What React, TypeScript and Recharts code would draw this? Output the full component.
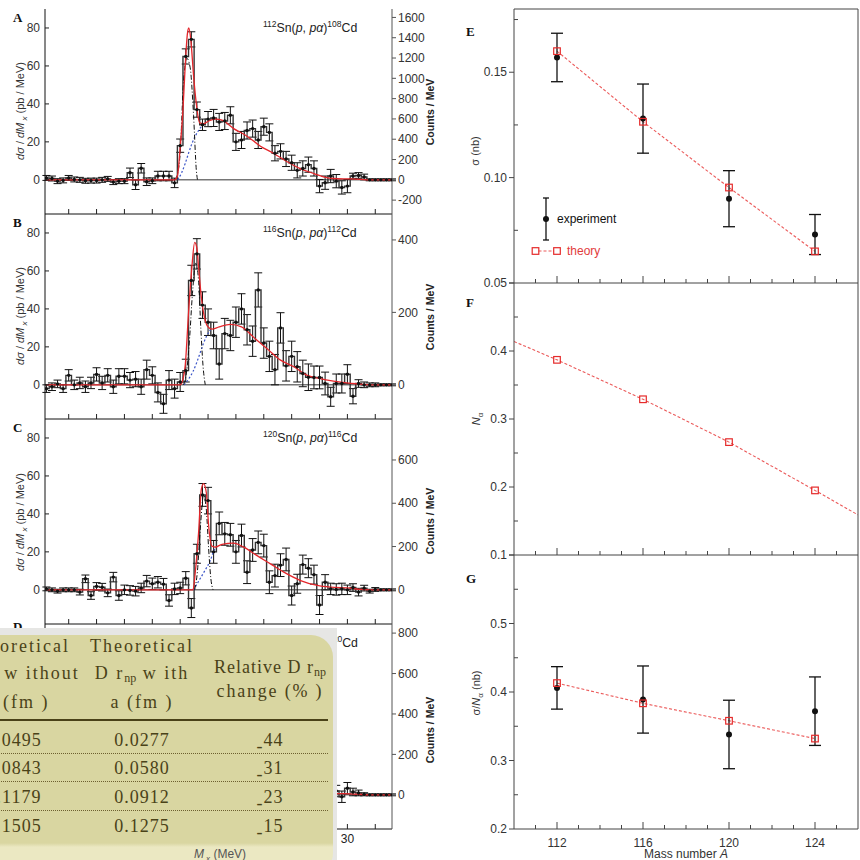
import React from "react";
import {
  ComposedChart,
  Line,
  Scatter,
  XAxis,
  YAxis,
  ErrorBar,
  ReferenceLine,
} from "recharts";

const SANS = '"Liberation Sans", Arial, sans-serif';
const SERIF = '"Liberation Serif", "DejaVu Serif", serif';

// ---- missing-mass spectra (bin centres in MeV, yields in pb/MeV) ----
const mxBins = [
  -24, -23, -22, -21, -20, -19, -18, -17, -16, -15, -14, -13, -12, -11, -10,
  -9, -8, -7, -6, -5, -4, -3, -2, -1, 0, 1, 2, 3, 4, 5, 6, 7, 8, 9, 10, 11, 12,
  13, 14, 15, 16, 17, 18, 19, 20, 21, 22, 23, 24, 25, 26, 27, 28, 29, 30, 31,
  32, 33, 34, 35, 36, 37, 38,
];

const sn112Yield = [
  1.0, 0.7, -0.7, -0.3, 1.0, 0.2, 0, -0.5, -0.4, -0.4,
  0, 0.5, -1.2, -0.7, -0.7, 3.7, -2.6, 6.1, -1.0, -0.5,
  2.0, 2.0, 2.0, -1.6, 18, 65, 74, 37, 29, 32,
  32.6, 30.5, 31, 34, 20, 21, 26, 27, 21, 28,
  25, 14, 15, 11, 9, 5, 6, 8, 6, -3.3,
  -1.5, 2, -0.7, -4, -3.3, 2, 2.3, 1.5, 0, 0,
  0, 0, 0,
];
const sn112Err = [
  1.3, 1.3, 1.3, 1.3, 1.3, 1.3, 1.3, 1.3, 1.3, 1.3,
  1.3, 1.3, 1.3, 1.3, 1.3, 2.5, 2.5, 2.5, 2, 1.5,
  2.5, 2.5, 2.5, 2.5, 3.5, 4, 4, 4, 3, 4,
  4.5, 4.5, 4.5, 4.5, 4.5, 4.5, 4.5, 4.5, 4.5, 4.5,
  4.5, 4, 4, 4, 4, 4, 4, 4, 4, 3.5,
  3.5, 3.5, 3.5, 3.5, 3.5, 1.5, 1.5, 1.5, 0.5, 0.5,
  0.5, 0.5, 0.5,
];

const sn116Yield = [
  -2, -1, 0.5, -2, 5, 0, 1, -1, 1, 5.5,
  1, 5, -1, 4.5, 4.5, 2.5, 3, -1, 8, 5,
  -4, -10, 2.5, -2, 1.5, 7.5, 55, 69, 42, 33,
  26, 11, 27, 26, 33, 40, 29, 23, 50, 22,
  15, 8, 30, 10, 15, 9.5, 6, 4, 3.9, 3.9,
  0.7, -6.3, 0.7, 0.7, 5.6, -6, 0.7, 0, 0, 0,
  0, 0, 0,
];
const sn116Err = [
  2, 2, 2, 2, 3, 2.5, 3, 3, 3, 3.5,
  3.5, 3.5, 3.5, 4, 4, 4, 4, 4, 5, 4.5,
  5, 5, 5, 5, 5, 6, 8, 8, 7, 7,
  7, 8, 8, 8, 8, 8, 8, 8, 9, 8,
  8, 8, 8, 8, 8, 8, 7, 7, 6, 6,
  6, 5, 5, 5, 5, 4, 2, 1.5, 1, 1,
  0.5, 0.5, 0.5,
];

const sn120Yield = [
  0.5, 0, -0.7, 0, 0, 0, -1.2, 5.8, -3, 1.8,
  1.4, -1.6, 6.7, -3, 0, -0.3, -0.7, 1, 4.6, 3.2,
  4, 3, -5.6, 0.5, 1, 6.1, -9.6, 19, 50, 47,
  20, 35, 29.5, 29, 20, 28.6, 9.3, 21, 25, 23.3,
  4, 7.5, 13, 16, -3, 3.2, 13.3, 11.4, 8, -8,
  4, 0.5, 0.2, 0.5, 0, 1.2, -1.2, 0.9, -0.7, 0.2,
  0, 0, 0,
];
const sn120Err = [
  1, 1, 1, 1, 1, 1, 1.5, 2, 2, 2,
  2, 2, 2.5, 2.5, 2.5, 2.5, 2.5, 2.5, 3, 3,
  3, 3, 3, 3, 3, 3.5, 5, 5, 6, 7,
  6, 6, 6, 6, 6, 6, 6, 6, 6, 6,
  6, 6, 6, 6, 5, 5, 5, 5, 5, 5,
  4, 3, 3, 3, 2.5, 2, 2, 1.5, 1, 1,
  0.5, 0.5, 0.5,
];

const sn124Bins = [25, 26, 27, 28, 29, 30, 31, 32, 33, 34, 35, 36, 37, 38];
const sn124Yield = [0.5, 2, -2, 2, -1, 3.5, 1.5, 1, 0.3, 0, 0, 0, 0, 0];
const sn124Err = [3, 3, 3, 3, 3, 3, 2, 1.5, 0.8, 0.5, 0.5, 0.5, 0.5, 0.5];

// fitted components: total (red), ground-state peak (dash-dot), continuum (dotted)
const sn112FitM = [-24, -1.0, -0.5, 0, 0.5, 0.9, 1.3, 1.55, 1.9, 2.4, 2.9, 3.5, 4.2, 5.1, 6.3, 7.5, 9.6, 12, 14.4, 16.8, 19.2, 21.6, 24, 25.7, 27.5, 30, 31.5, 33.5, 38];
const sn112FitY = [0, 0, 2, 17, 37, 60, 77, 80, 74, 55, 40, 30, 29.6, 31, 32, 31.4, 27, 23, 17.7, 13.9, 9.5, 5.8, 3.3, 1.6, 0.7, 0.5, 0.4, 0, 0];
const sn112GsM = [-0.9, -0.4, 0, 0.6, 1.2, 1.8, 2.4, 2.9, 3.1];
const sn112GsY = [0, 4, 14, 52, 64, 59, 34, 5, 0];
const sn112ContM = [-0.4, 0.3, 0.9, 1.5, 2.1, 2.7, 3.3, 3.9, 4.4];
const sn112ContY = [0, 4, 8.6, 14, 19, 23, 26, 28.4, 29.6];

const sn116FitM = [-24, 0, 0.5, 0.9, 1.5, 2.1, 2.6, 3.0, 3.3, 3.8, 4.4, 5.0, 5.7, 7, 9, 11, 13.2, 15.6, 18, 20.4, 22.8, 25.1, 27.5, 29.9, 32.3, 34, 38];
const sn116FitY = [0, 0, 3, 10, 38, 62, 75, 72, 62, 46, 35, 30.5, 29.3, 30.5, 31.8, 30.5, 25, 19, 13, 9.5, 5, 3.3, 2, 1, 0.4, 0, 0];
const sn116GsM = [0.6, 1.2, 1.7, 2.2, 2.8, 3.3, 3.7, 4.1, 4.5];
const sn116GsY = [0, 8, 25, 48, 64, 55, 30, 10, 0];
const sn116ContM = [0.7, 1.5, 2.3, 3.0, 3.6, 4.2, 4.8, 5.4];
const sn116ContY = [0, 3, 7, 12, 17, 22, 26, 29];

const sn120FitM = [-24, 2.3, 2.7, 3.3, 3.8, 4.2, 4.7, 5.1, 5.7, 6.3, 7.5, 9.6, 11.4, 13.8, 16.2, 18.6, 21.6, 24.6, 26.9, 30.5, 32.3, 34, 38];
const sn120FitY = [0, 0, 9, 30, 53, 56, 51, 34, 23, 22.5, 24, 24.6, 22.5, 18, 13.7, 9.3, 4.9, 2.3, 1.4, 0.9, 0.2, 0, 0];
const sn120GsM = [2.6, 3.1, 3.6, 4.2, 4.7, 5.1, 5.5, 5.9];
const sn120GsY = [0, 10, 32, 50, 42, 22, 6, 0];
const sn120ContM = [2.4, 3.4, 4.4, 5.4, 6.1, 6.4];
const sn120ContY = [0, 5, 10, 15.4, 21, 22.5];

const sn124FitM = [20, 23, 26, 29, 32, 34, 38];
const sn124FitY = [4, 2, 1, 0.6, 0.3, 0, 0];

const MX_TICKS = [-20, -15, -10, -5, 0, 5, 10, 15, 20, 25, 30, 35];
const MX_LABELS = [-20, -10, 0, 10, 20, 30];

// ---- mass dependence ----
const massNumbers = [112, 116, 120, 124];
const sigmaExp = [0.157, 0.128, 0.09, 0.073];
const sigmaErr = [0.0115, 0.0164, 0.0133, 0.0095];
const sigmaTheory = [0.16, 0.1265, 0.0953, 0.065];
const nAlphaTheory = [0.387, 0.329, 0.266, 0.195];
const nAlphaCurveA = [110, 112, 116, 120, 124, 126];
const nAlphaCurve = [0.414, 0.387, 0.329, 0.266, 0.195, 0.159];
const ratioExp = [0.406, 0.389, 0.338, 0.372];
const ratioErr = [0.031, 0.049, 0.05, 0.05];
const ratioTheory = [0.413, 0.3835, 0.358, 0.332];

const MASS_TICKS = [111, 112, 113, 114, 115, 116, 117, 118, 119, 120, 121, 122, 123, 124, 125];
const MASS_LABELS = [112, 116, 120, 124];

// ---- table ----
const drnpWithout = ["0.0495", "0.0843", "0.1179", "0.1505"];
const drnpWith = ["0.0277", "0.0580", "0.0912", "0.1275"];
const drnpChange = ["-44", "-31", "-23", "-15"];

const near = (v: number, list: number[]) => list.some((b) => Math.abs(v - b) < 1e-6);

type YTickOpts = {
  majors: number[];
  out: number;
  inn: number;
  minorOut?: number;
  minorIn?: number;
  fmt?: (v: number) => string;
  gap?: number;
  color?: string;
};

// y ticks drawn by hand: tickSize/tickMargin are 0 so (x, y) sits on the axis line
function yTick(side: "left" | "right", o: YTickOpts) {
  return (p: any) => {
    const v = p.payload.value;
    const major = near(v, o.majors);
    const s = side === "left" ? -1 : 1;
    const out = major ? o.out : o.minorOut ?? 0;
    const inn = major ? o.inn : o.minorIn ?? 0;
    const label = major && o.fmt ? o.fmt(v) : "";
    return (
      <g>
        <line x1={p.x - s * inn} x2={p.x + s * out} y1={p.y} y2={p.y} stroke={o.color ?? "#222"} />
        {label && (
          <text
            x={p.x + s * (out + (o.gap ?? 3))}
            y={p.y}
            dy="0.35em"
            textAnchor={side === "left" ? "end" : "start"}
            fontSize={12}
            fontFamily={SANS}
            fill="#333"
          >
            {label}
          </text>
        )}
      </g>
    );
  };
}

const mxTick = (labels: boolean) => (p: any) => (
  <g>
    <line x1={p.x} x2={p.x} y1={p.y} y2={p.y - 5} stroke="#222" />
    {labels && near(p.payload.value, MX_LABELS) && (
      <text x={p.x} y={p.y + 10} dy="0.35em" textAnchor="middle" fontSize={12} fontFamily={SANS} fill="#222">
        {p.payload.value}
      </text>
    )}
  </g>
);

const massTick = (pos: "bottom" | "top", labels: boolean) => (p: any) => {
  const v = p.payload.value;
  const major = near(v, MASS_LABELS);
  const s = pos === "bottom" ? -1 : 1;
  const len = pos === "bottom" ? (major ? 7 : 4) : major ? 4 : 2;
  return (
    <g>
      <line x1={p.x} x2={p.x} y1={p.y} y2={p.y + s * len} stroke="#444" />
      {labels && major && (
        <text x={p.x} y={p.y + 14} dy="0.35em" textAnchor="middle" fontSize={12} fontFamily={SANS} fill="#333">
          {v}
        </text>
      )}
    </g>
  );
};

const toPts = (xs: number[], ys: number[]) => xs.map((m, i) => ({ m, y: ys[i] }));

const SPEC_DOMAIN: [number, number] = [-18, 90];
const SPEC_H = 205;

function SpectrumPanel(props: {
  plotTop: number;
  bins: number[];
  yields: number[];
  errs: number[];
  fitM: number[];
  fitY: number[];
  gsM?: number[];
  gsY?: number[];
  contM?: number[];
  contY?: number[];
  rightDomain: [number, number];
  rightTicks: number[];
  xLabels?: boolean;
}) {
  const hist = props.bins.map((m, i) => ({ m, y: props.yields[i], e: props.errs[i] }));
  const bottomH = props.xLabels ? 26 : 1;
  return (
    <div style={{ position: "absolute", left: 0, top: props.plotTop - 1 }}>
      <ComposedChart width={440} height={SPEC_H + 1 + bottomH} margin={{ top: 1, right: 0, bottom: 0, left: 0 }}>
        <XAxis
          type="number"
          dataKey="m"
          domain={[-24.25, 38]}
          allowDataOverflow
          ticks={MX_TICKS}
          interval={0}
          tickSize={0}
          tickMargin={0}
          height={bottomH}
          stroke="#111"
          tick={mxTick(!!props.xLabels)}
        />
        <YAxis
          yAxisId="l"
          type="number"
          domain={SPEC_DOMAIN}
          allowDataOverflow
          ticks={[0, 20, 40, 60, 80]}
          interval={0}
          width={45}
          tickSize={0}
          tickMargin={0}
          stroke="#111"
          tick={yTick("left", { majors: [0, 20, 40, 60, 80], out: 0, inn: 4, gap: 5, fmt: String })}
        />
        <YAxis
          yAxisId="r"
          orientation="right"
          type="number"
          domain={props.rightDomain}
          allowDataOverflow
          ticks={props.rightTicks}
          interval={0}
          width={48}
          tickSize={0}
          tickMargin={0}
          stroke="#555"
          tick={yTick("right", { majors: props.rightTicks, out: 4, inn: 0, gap: 2, fmt: String, color: "#555" })}
        />
        <ReferenceLine yAxisId="l" y={0} stroke="#333" />
        <Line
          yAxisId="l"
          data={hist}
          dataKey="y"
          type="step"
          stroke="#333"
          strokeWidth={1.4}
          dot={{ r: 1.7, fill: "#111", stroke: "none" }}
          isAnimationActive={false}
        >
          <ErrorBar dataKey="e" direction="y" width={4} stroke="#111" strokeWidth={1} />
        </Line>
        {props.contM && props.contY && (
          <Line
            yAxisId="l"
            data={toPts(props.contM, props.contY)}
            dataKey="y"
            type="monotone"
            stroke="#3b55c8"
            strokeWidth={1.2}
            strokeDasharray="2 2"
            dot={false}
            isAnimationActive={false}
          />
        )}
        {props.gsM && props.gsY && (
          <Line
            yAxisId="l"
            data={toPts(props.gsM, props.gsY)}
            dataKey="y"
            type="monotone"
            stroke="#111"
            strokeWidth={1}
            strokeDasharray="5 2 1 2"
            dot={false}
            isAnimationActive={false}
          />
        )}
        <Line
          yAxisId="l"
          data={toPts(props.fitM, props.fitY)}
          dataKey="y"
          type="monotone"
          stroke="#e4262b"
          strokeWidth={1.3}
          dot={false}
          isAnimationActive={false}
        />
      </ComposedChart>
    </div>
  );
}

const squareShape = (p: any) => (
  <rect x={p.cx - 3.3} y={p.cy - 3.3} width={6.6} height={6.6} fill="none" stroke="#e52b2b" strokeWidth={1.2} />
);
const dotShape = (p: any) => <circle cx={p.cx} cy={p.cy} r={3} fill="#111" />;

function MassPanel(props: {
  plotTop: number;
  plotH: number;
  domain: [number, number];
  majors: number[];
  minors: number[];
  fmt: (v: number) => string;
  expY?: number[];
  expE?: number[];
  lineA: number[];
  lineY: number[];
  theoryY: number[];
  topLine?: boolean;
  topTicks?: boolean;
  xLabels?: boolean;
}) {
  // extra room below the frame so the lowest tick label is not clipped
  const bottomH = props.xLabels ? 26 : 8;
  const exp = props.expY ? massNumbers.map((x, i) => ({ x, y: props.expY![i], e: props.expE![i] })) : [];
  const theory = massNumbers.map((x, i) => ({ x, y: props.theoryY[i] }));
  const curve = props.lineA.map((x, i) => ({ x, y: props.lineY[i] }));
  return (
    <div style={{ position: "absolute", left: 440, top: props.plotTop - 1 }}>
      <ComposedChart width={420} height={props.plotH + 1 + bottomH} margin={{ top: 0, right: 0, bottom: 0, left: 0 }}>
        <XAxis
          type="number"
          dataKey="x"
          domain={[110, 126]}
          allowDataOverflow
          ticks={MASS_TICKS}
          interval={0}
          tickSize={0}
          tickMargin={0}
          height={bottomH}
          stroke="#444"
          tick={massTick("bottom", !!props.xLabels)}
        />
        <XAxis
          xAxisId="top"
          orientation="top"
          type="number"
          domain={[110, 126]}
          ticks={MASS_TICKS}
          interval={0}
          tickSize={0}
          tickMargin={0}
          height={1}
          axisLine={!!props.topLine}
          stroke="#444"
          tick={props.topTicks ? massTick("top", false) : false}
        />
        <YAxis
          type="number"
          domain={props.domain}
          allowDataOverflow
          ticks={[...props.majors, ...props.minors]}
          interval={0}
          width={74}
          tickSize={0}
          tickMargin={0}
          stroke="#444"
          tick={yTick("left", {
            majors: props.majors,
            out: 5,
            inn: 0,
            minorOut: 0,
            minorIn: 4,
            gap: 2,
            fmt: props.fmt,
            color: "#444",
          })}
        />
        <YAxis yAxisId="r" orientation="right" type="number" domain={props.domain} width={2} tick={false} tickLine={false} stroke="#444" />
        <Line
          data={curve}
          dataKey="y"
          type="linear"
          stroke="#eb5a5a"
          strokeWidth={1.1}
          strokeDasharray="3 2"
          dot={false}
          isAnimationActive={false}
        />
        {exp.length > 0 && (
          <Scatter data={exp} dataKey="y" shape={dotShape} isAnimationActive={false}>
            <ErrorBar dataKey="e" direction="y" width={6} stroke="#111" strokeWidth={1.3} />
          </Scatter>
        )}
        <Scatter data={theory} dataKey="y" shape={squareShape} isAnimationActive={false} />
      </ComposedChart>
    </div>
  );
}

function Sup({ children }: { children: React.ReactNode }) {
  return <span style={{ fontSize: 8.5, position: "relative", top: -5 }}>{children}</span>;
}

function Reaction({ target, residual, top }: { target: string; residual: string; top: number }) {
  return (
    <div style={{ position: "absolute", left: 263, top, fontFamily: SANS, fontSize: 12.3, color: "#222", whiteSpace: "nowrap" }}>
      <Sup>{target}</Sup>Sn(<i>p</i>, <i>pα</i>)<Sup>{residual}</Sup>Cd
    </div>
  );
}

function RotLabel({ cx, cy, children, style }: { cx: number; cy: number; children: React.ReactNode; style?: React.CSSProperties }) {
  return (
    <div
      style={{
        position: "absolute",
        left: cx - 100,
        top: cy - 8,
        width: 200,
        height: 16,
        lineHeight: "16px",
        textAlign: "center",
        transform: "rotate(-90deg)",
        whiteSpace: "nowrap",
        fontFamily: SANS,
        fontSize: 11,
        color: "#333",
        ...style,
      }}
    >
      {children}
    </div>
  );
}

function PanelTag({ x, y, children }: { x: number; y: number; children: React.ReactNode }) {
  return (
    <div style={{ position: "absolute", left: x, top: y, fontFamily: SERIF, fontWeight: "bold", fontSize: 13, color: "#111", lineHeight: "13px" }}>
      {children}
    </div>
  );
}

const SpecYLabel = () => (
  <>
    <i>dσ</i> / <i>dM</i>
    <i style={{ fontSize: 8, position: "relative", top: 3 }}> x</i> (pb / MeV)
  </>
);

function Minus({ v }: { v: string }) {
  if (!v.startsWith("-")) return <>{v}</>;
  return (
    <>
      <span style={{ position: "relative", top: 6 }}>-</span>
      {v.slice(1)}
    </>
  );
}

function DrnpTable() {
  const boxLeft = -140;
  const boxTop = 635;
  const cols = [14, 142, 270];
  const cell = (cx: number, cy: number, content: React.ReactNode, spacing: number, key?: string) => (
    <span
      key={key}
      style={{
        position: "absolute",
        left: cx - boxLeft,
        top: cy - boxTop,
        transform: "translate(-50%, -50%)",
        whiteSpace: "nowrap",
        letterSpacing: spacing,
      }}
    >
      {content}
    </span>
  );
  const sub = (t: string) => <sub style={{ fontSize: 12, verticalAlign: "-3px", letterSpacing: 0 }}>{t}</sub>;
  const rowY = [740, 768, 797, 826];
  return (
    <>
      <div style={{ position: "absolute", left: 0, top: 628, width: 337, height: 240, background: "#e6e6e4" }} />
      <div
        style={{
          position: "absolute",
          left: boxLeft,
          top: boxTop,
          width: 333 - boxLeft,
          height: 240,
          borderRadius: "0 22px 22px 0",
          background: "linear-gradient(#d9d6a1 0px, #d9d6a1 208px, #ebe8c2 212px)",
          fontFamily: SERIF,
          fontSize: 18,
          color: "#4a4218",
          overflow: "hidden",
        }}
      >
        {cell(cols[0] + 4, 646, "Theoretical", 2)}
        {cell(cols[0] + 4, 674, <>D r{sub("np")} w ithout</>, 2)}
        {cell(cols[0] + 4, 702, "a (fm )", 2)}
        {cell(cols[1], 646, "Theoretical", 2)}
        {cell(cols[1], 674, <>D r{sub("np")} w ith</>, 2)}
        {cell(cols[1], 702, "a (fm )", 2)}
        {cell(cols[2], 668, <>Relative D r{sub("np")}</>, 1)}
        {cell(cols[2], 691, "change (% )", 1.8)}
        <div style={{ position: "absolute", left: 0, top: 719 - boxTop, width: 328 - boxLeft, borderTop: "2.5px solid #4a4218" }} />
        {rowY.slice(0, 3).map((y, i) => (
          <div
            key={"sep" + i}
            style={{ position: "absolute", left: 0, top: y + 13 - boxTop, width: 328 - boxLeft, borderTop: "1.5px dotted #6d6030" }}
          />
        ))}
        {rowY.map((y, i) => cell(cols[0], y, drnpWithout[i], 1, "a" + i))}
        {rowY.map((y, i) => cell(cols[1], y, drnpWith[i], 1, "b" + i))}
        {rowY.map((y, i) => cell(cols[2], y, <Minus v={drnpChange[i]} />, 1, "c" + i))}
      </div>
    </>
  );
}

function Legend() {
  return (
    <svg style={{ position: "absolute", left: 520, top: 190 }} width={130} height={72}>
      <line x1={26} x2={26} y1={8} y2={50} stroke="#111" strokeWidth={1.3} />
      <line x1={23} x2={29} y1={8} y2={8} stroke="#111" strokeWidth={1.3} />
      <line x1={23} x2={29} y1={50} y2={50} stroke="#111" strokeWidth={1.3} />
      <circle cx={26} cy={29} r={3} fill="#111" />
      <text x={37} y={29} dy="0.35em" fontSize={12} fontFamily={SANS} fill="#111">
        experiment
      </text>
      <line x1={18.5} x2={34} y1={61} y2={61} stroke="#eb5a5a" strokeDasharray="3 2" />
      <rect x={12.2} y={57.7} width={6.6} height={6.6} fill="none" stroke="#e52b2b" strokeWidth={1.2} />
      <rect x={33.7} y={57.7} width={6.6} height={6.6} fill="none" stroke="#e52b2b" strokeWidth={1.2} />
      <text x={47} y={61} dy="0.35em" fontSize={12} fontFamily={SANS} fill="#e23b3b">
        theory
      </text>
    </svg>
  );
}

export default function App() {
  return (
    <div style={{ position: "relative", width: 860, height: 860, overflow: "hidden", background: "#fff" }}>
      <style>{"body{margin:0}"}</style>

      <SpectrumPanel
        plotTop={9}
        bins={mxBins}
        yields={sn112Yield}
        errs={sn112Err}
        fitM={sn112FitM}
        fitY={sn112FitY}
        gsM={sn112GsM}
        gsY={sn112GsY}
        contM={sn112ContM}
        contY={sn112ContY}
        rightDomain={[-336.6, 1683]}
        rightTicks={[-200, 0, 200, 400, 600, 800, 1000, 1200, 1400, 1600]}
      />
      <SpectrumPanel
        plotTop={214}
        bins={mxBins}
        yields={sn116Yield}
        errs={sn116Err}
        fitM={sn116FitM}
        fitY={sn116FitY}
        gsM={sn116GsM}
        gsY={sn116GsY}
        contM={sn116ContM}
        contY={sn116ContY}
        rightDomain={[-94.3, 471.6]}
        rightTicks={[0, 200, 400]}
      />
      <SpectrumPanel
        plotTop={419}
        bins={mxBins}
        yields={sn120Yield}
        errs={sn120Err}
        fitM={sn120FitM}
        fitY={sn120FitY}
        gsM={sn120GsM}
        gsY={sn120GsY}
        contM={sn120ContM}
        contY={sn120ContY}
        rightDomain={[-157.9, 789.3]}
        rightTicks={[0, 200, 400, 600]}
      />
      <SpectrumPanel
        plotTop={624}
        bins={sn124Bins}
        yields={sn124Yield}
        errs={sn124Err}
        fitM={sn124FitM}
        fitY={sn124FitY}
        rightDomain={[-169, 845]}
        rightTicks={[0, 200, 400, 600, 800]}
        xLabels
      />

      <Reaction target="112" residual="108" top={21} />
      <Reaction target="116" residual="112" top={226} />
      <Reaction target="120" residual="116" top={431} />
      <Reaction target="124" residual="120" top={636} />

      <PanelTag x={13} y={11}>A</PanelTag>
      <PanelTag x={13} y={216}>B</PanelTag>
      <PanelTag x={13} y={421}>C</PanelTag>
      <PanelTag x={13} y={620}>D</PanelTag>

      <RotLabel cx={20} cy={111}><SpecYLabel /></RotLabel>
      <RotLabel cx={20} cy={316}><SpecYLabel /></RotLabel>
      <RotLabel cx={20} cy={522}><SpecYLabel /></RotLabel>
      {[112, 317, 521, 730].map((cy) => (
        <RotLabel key={cy} cx={430} cy={cy} style={{ fontWeight: "bold", fontSize: 10.5, color: "#222" }}>
          Counts / MeV
        </RotLabel>
      ))}

      <MassPanel
        plotTop={9}
        plotH={274}
        domain={[0.05, 0.18]}
        majors={[0.05, 0.1, 0.15]}
        minors={[0.075, 0.125, 0.175]}
        fmt={(v) => v.toFixed(2)}
        expY={sigmaExp}
        expE={sigmaErr}
        lineA={massNumbers}
        lineY={sigmaTheory}
        theoryY={sigmaTheory}
        topLine
      />
      <MassPanel
        plotTop={283}
        plotH={272}
        domain={[0.1, 0.5]}
        majors={[0.1, 0.2, 0.3, 0.4, 0.5]}
        minors={[0.15, 0.25, 0.35, 0.45]}
        fmt={(v) => (v > 0.45 ? "" : v.toFixed(1))}
        lineA={nAlphaCurveA}
        lineY={nAlphaCurve}
        theoryY={nAlphaTheory}
        topTicks
      />
      <MassPanel
        plotTop={555}
        plotH={274}
        domain={[0.2, 0.6]}
        majors={[0.2, 0.3, 0.4, 0.5, 0.6]}
        minors={[0.25, 0.35, 0.45, 0.55]}
        fmt={(v) => (v > 0.55 ? "" : v.toFixed(1))}
        expY={ratioExp}
        expE={ratioErr}
        lineA={massNumbers}
        lineY={ratioTheory}
        theoryY={ratioTheory}
        xLabels
      />
      <Legend />

      <PanelTag x={466} y={25}>E</PanelTag>
      <PanelTag x={466} y={296}>F</PanelTag>
      <PanelTag x={466} y={572}>G</PanelTag>

      <RotLabel cx={475} cy={151}>
        σ (nb)
      </RotLabel>
      <RotLabel cx={476} cy={419}>
        <i>N</i>
        <span style={{ fontSize: 8, position: "relative", top: 3 }}>α</span>
      </RotLabel>
      <RotLabel cx={476} cy={693}>
        σ/<i>N</i>
        <span style={{ fontSize: 8, position: "relative", top: 3 }}>α</span> (nb)
      </RotLabel>
      <div style={{ position: "absolute", left: 616, top: 847, width: 140, textAlign: "center", fontFamily: SANS, fontSize: 12, color: "#333" }}>
        Mass number <i>A</i>
      </div>

      <DrnpTable />
      <div style={{ position: "absolute", left: 170, top: 847, width: 100, textAlign: "center", fontFamily: SANS, fontSize: 12, color: "#555" }}>
        <i>M</i>
        <i style={{ fontSize: 8, position: "relative", top: 3 }}> x</i> (MeV)
      </div>
    </div>
  );
}
